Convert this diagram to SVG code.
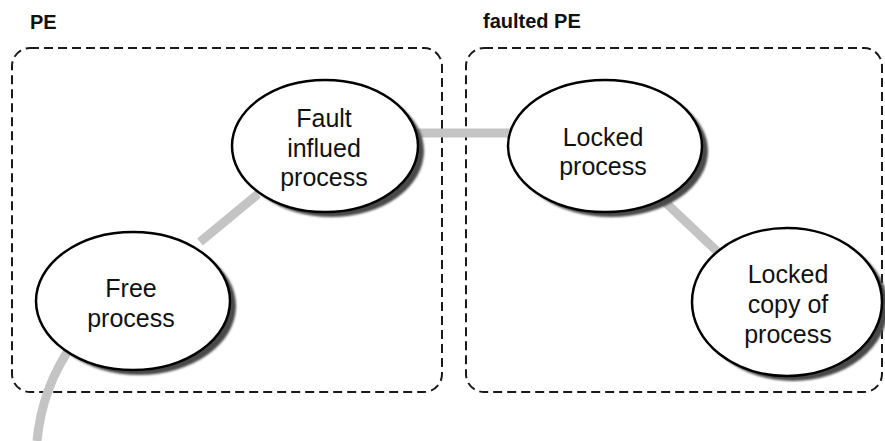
<svg xmlns="http://www.w3.org/2000/svg" width="885" height="441" viewBox="0 0 885 441">
<style>
.box{fill:none;stroke:#1a1a1a;stroke-width:2;stroke-dasharray:9 5}
.title{font-family:"Liberation Sans",Arial,sans-serif;font-weight:bold;font-size:20px;fill:#111}
.edge{fill:none;stroke:#c4c4c4;stroke-width:9}
.node{fill:#fff;stroke:#000;stroke-width:2.5}
.shadow{fill:#4a4a4a;filter:url(#blur)}
.label{font-family:"Liberation Sans",Arial,sans-serif;font-size:25px;fill:#111;text-anchor:middle}
</style>
<defs>
<filter id="blur" x="-10%" y="-10%" width="120%" height="120%"><feGaussianBlur stdDeviation="1"/></filter>
</defs>
<rect width="885" height="441" fill="#fff"/>
<g id="pe">
<rect class="box" x="12" y="48" width="430" height="344" rx="18"/>
<text class="title" x="30" y="29">PE</text>
</g>
<g id="faulted-pe">
<rect class="box" x="466" y="48" width="416" height="344" rx="18"/>
<text class="title" x="483" y="28">faulted PE</text>
</g>
<g id="connectors">
<path class="edge" d="M200 242 L258 194"/>
<path class="edge" d="M412 133 L510 133"/>
<path class="edge" d="M665 202 L722 256"/>
<path class="edge" d="M72 345 Q42 388 37 441"/>
</g>
<g id="free">
<ellipse class="shadow" cx="139" cy="306" rx="97" ry="69"/>
<ellipse class="node" cx="133" cy="301" rx="97" ry="69"/>
<text class="label" x="131" y="297">Free</text>
<text class="label" x="131" y="327">process</text>
</g>
<g id="fault">
<ellipse class="shadow" cx="331" cy="151" rx="93" ry="66"/>
<ellipse class="node" cx="325" cy="146" rx="93" ry="66"/>
<text class="label" x="324" y="127">Fault</text>
<text class="label" x="324" y="157">influed</text>
<text class="label" x="324" y="186">process</text>
</g>
<g id="locked">
<ellipse class="shadow" cx="611" cy="151" rx="97" ry="66"/>
<ellipse class="node" cx="605" cy="146" rx="97" ry="66"/>
<text class="label" x="603" y="146">Locked</text>
<text class="label" x="603" y="175">process</text>
</g>
<g id="locked-copy">
<ellipse class="shadow" cx="793" cy="307" rx="95" ry="74"/>
<ellipse class="node" cx="787" cy="302" rx="95" ry="74"/>
<text class="label" x="788" y="283">Locked</text>
<text class="label" x="788" y="313">copy of</text>
<text class="label" x="788" y="343">process</text>
</g>
</svg>
